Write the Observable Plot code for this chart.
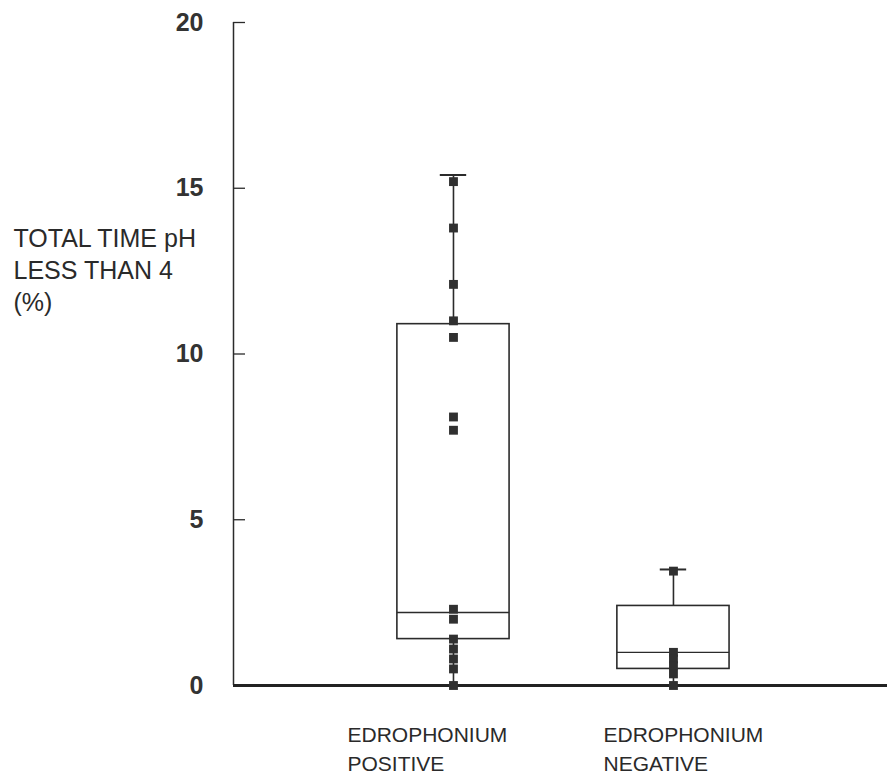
<!DOCTYPE html>
<html>
<head>
<meta charset="utf-8">
<script src="https://cdn.jsdelivr.net/npm/d3@7"></script>
<script src="https://cdn.jsdelivr.net/npm/@observablehq/plot@0.6"></script>
<style>
  html, body { margin: 0; padding: 0; background: #fff; }
  #chart { width: 887px; height: 778px; }
</style>
</head>
<body>
<div id="chart"></div>
<script>
// ---- data ----
const categories = ["EDROPHONIUM\nPOSITIVE", "EDROPHONIUM\nNEGATIVE"];
const q1 = [1.4, 0.5];
const median = [2.2, 1.0];
const q3 = [10.9, 2.4];
const whiskerLow = [0, 0];
const whiskerHigh = [15.4, 3.5];
const positivePoints = [15.2, 13.8, 12.1, 11.0, 10.5, 8.1, 7.7, 2.3, 2.0, 1.4, 1.1, 0.8, 0.5, 0.0];
const negativePoints = [3.45, 1.0, 0.8, 0.6, 0.35, 0.0];
const yTicks = [0, 5, 10, 15, 20];
const yLabel = "TOTAL TIME pH\nLESS THAN 4\n(%)";

// ---- derived tables ----
const boxes = categories.map((c, i) => ({
  cat: c, pos: i + 1, q1: q1[i], median: median[i], q3: q3[i],
  lo: whiskerLow[i], hi: whiskerHigh[i]
}));
const points = [
  ...positivePoints.map(v => ({pos: 1, v})),
  ...negativePoints.map(v => ({pos: 2, v}))
];
const half = 0.255, cap = 0.06;
const ink = "#2b2b2b";

const chart = Plot.plot({
  width: 887,
  height: 778,
  marginLeft: 233,
  marginRight: 0,
  marginTop: 22,
  marginBottom: 93,
  style: {background: "#fff", fontFamily: "'Liberation Sans', Arial, sans-serif"},
  x: {type: "linear", domain: [0, 2.973], axis: null},
  y: {domain: [0, 20]},
  marks: [
    // axis line
    Plot.ruleX([0], {y1: 0, y2: 20, stroke: ink, strokeWidth: 1.5}),
    // tick labels
    Plot.axisY({ticks: yTicks, tickSize: 0, tickPadding: 30, fontSize: 25, fontWeight: "bold", fill: "#333", label: null}),
    // inward ticks
    Plot.axisY({ticks: yTicks, tickSize: -12, text: null, label: null, stroke: ink, strokeWidth: 1.3}),
    // whiskers
    Plot.ruleX(boxes, {x: "pos", y1: "q3", y2: "hi", stroke: ink, strokeWidth: 1.6}),
    Plot.ruleX(boxes, {x: "pos", y1: "lo", y2: "q1", stroke: ink, strokeWidth: 1.6}),
    Plot.ruleY(boxes, {y: "hi", x1: d => d.pos - cap, x2: d => d.pos + cap, stroke: ink, strokeWidth: 2}),
    // boxes
    Plot.rect(boxes, {x1: d => d.pos - half, x2: d => d.pos + half, y1: "q1", y2: "q3", fill: "#fff", stroke: ink, strokeWidth: 1.6}),
    Plot.ruleY(boxes, {y: "median", x1: d => d.pos - half, x2: d => d.pos + half, stroke: ink, strokeWidth: 1.4}),
    // baseline
    Plot.ruleY([0], {stroke: "#222", strokeWidth: 3}),
    // points
    Plot.dot(points, {x: "pos", y: "v", symbol: "square", r: 5, fill: "#303030", stroke: "none"}),
    // category labels
    Plot.text([boxes[0]], {x: "pos", text: "cat", frameAnchor: "bottom", textAnchor: "start", lineAnchor: "middle", dx: -106, dy: 61.5, fontSize: 21, lineHeight: 1.38, fill: "#2a2a2a", letterSpacing: "-0.4px"}),
    Plot.text([boxes[1]], {x: "pos", text: "cat", frameAnchor: "bottom", textAnchor: "start", lineAnchor: "middle", dx: -70, dy: 61.5, fontSize: 21, lineHeight: 1.38, fill: "#2a2a2a", letterSpacing: "-0.4px"}),
    // y label
    Plot.text([yLabel], {text: d => d, frameAnchor: "top-left", textAnchor: "start", lineAnchor: "middle", dx: -220, dy: 246, fontSize: 25, lineHeight: 1.28, fill: "#2a2a2a"})
  ]
});
document.getElementById("chart").appendChild(chart);
</script>
</body>
</html>
